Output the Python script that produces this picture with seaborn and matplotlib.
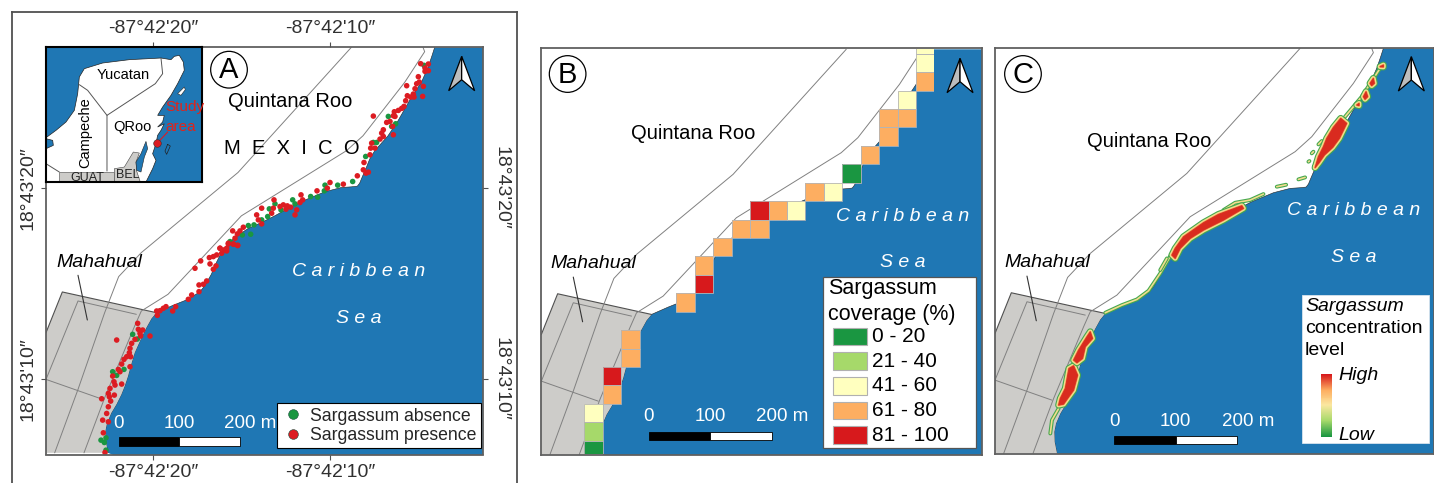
# Sargassum maps of Mahahual: presence points, coverage grid, concentration level
import numpy as np
import pandas as pd
import seaborn as sns
import matplotlib.pyplot as plt
from matplotlib.colors import ListedColormap, LinearSegmentedColormap
from matplotlib.lines import Line2D
from matplotlib.patches import Circle, Polygon, Rectangle

# Coastline, roads and town outline, in map units (1 unit = 1/3 pixel)
coast_x = [1180, 1172, 1160, 1140, 1110, 1070, 1040, 1000, 985, 975, 962, 955, 948, 930, 900, 850, 785, 740, 700, 660, 620, 580, 560, 540, 525, 510, 490, 475, 440, 395, 345, 330, 315, 298, 280, 268, 260, 250, 240, 225, 210, 197, 192, 193, 200]
coast_y = [25, 50, 85, 130, 175, 245, 290, 335, 360, 385, 415, 432, 441, 443, 445, 458, 485, 508, 530, 550, 568, 595, 615, 640, 670, 705, 740, 758, 780, 798, 820, 838, 865, 900, 940, 980, 1010, 1040, 1065, 1095, 1120, 1150, 1175, 1205, 1240]
town_edge_x = [14, 63, 345]
town_edge_y = [880, 758, 820]
road_a_x = [930, 590, 300, 232, 190, 110, 40]
road_a_y = [25, 400, 640, 712, 820, 1050, 1240]
road_b_x = [1145, 1150, 1090, 965, 915, 600, 380, 300, 280, 190, 128]
road_b_y = [25, 38, 130, 290, 335, 530, 765, 815, 860, 1075, 1240]
road_c_x = [285, 110, 14, 185]
road_c_y = [825, 785, 1020, 1080]

# Panel A survey points
presence_x = [1262, 1285, 1275, 1285, 1275, 1255, 1258, 1250, 1220, 1270, 1245, 1240, 1222, 1232, 1242, 1268, 1217, 1212, 1205, 1195, 1183, 1180, 1120, 1185, 1170, 1160, 1178, 1150, 1145, 1180, 1150, 1140, 1115, 1125, 1112, 1110, 1092, 1090, 1098, 1105, 1072, 1030, 990, 982, 951, 903, 908, 900, 822, 850, 840, 862, 872, 858, 820, 815, 890, 885, 785, 770, 775, 785, 730, 698, 720, 712, 705, 685, 700, 713, 660, 680, 672,
              700, 713, 685, 660, 680, 665, 650, 640, 628, 602, 630, 648, 640, 585, 620, 610, 597, 597, 575, 565, 527, 498, 490, 480, 470, 518, 472, 413, 415, 428, 420, 450, 422, 405, 350, 395, 390, 388, 392, 380, 372, 365, 355, 390, 360, 338, 342, 365, 345, 330, 325, 343, 328, 332, 305, 325, 320, 308, 325, 310, 315]
presence_y = [192, 193, 205, 213, 215, 231, 247, 252, 258, 260, 267, 283, 288, 292, 292, 290, 303, 320, 326, 332, 336, 348, 349, 350, 365, 368, 380, 390, 400, 405, 410, 418, 430, 445, 445, 465, 488, 510, 520, 517, 528, 553, 548, 565, 573, 585, 600, 608, 600, 615, 620, 618, 622, 628, 625, 640, 630, 645, 625, 645, 660, 672, 682, 693, 693, 702, 715, 730, 733, 737, 745, 745, 750,
              732, 736, 732, 745, 753, 760, 765, 770, 773, 783, 792, 798, 808, 805, 843, 853, 855, 875, 885, 898, 920, 920, 925, 932, 933, 933, 946, 970, 988, 990, 1000, 1008, 1008, 1018, 1020, 1030, 1045, 1058, 1070, 1070, 1078, 1092, 1108, 1100, 1115, 1128, 1145, 1152, 1155, 1165, 1180, 1185, 1190, 1203, 1196, 1220, 1240, 1260, 1265, 1298, 1357]
absence_x = [1272, 1165, 1187, 1175, 1120, 1130, 1097, 1058, 1013, 975, 973, 932, 953, 878, 885, 843, 825, 808, 803, 785, 762, 745, 727, 752, 690,
             398, 412, 338, 372, 350, 318, 303, 313, 318]
absence_y = [197, 350, 372, 380, 428, 428, 470, 545, 556, 556, 573, 590, 592, 600, 612, 630, 612, 627, 650, 660, 675, 677, 705, 703, 725,
             1003, 1017, 1115, 1108, 1126, 1313, 1320, 1327, 1350]
point_labels = ["Sargassum absence", "Sargassum presence"]

# Panel B coverage grid cells
cover_row = [0, 1, 2, 3, 4, 4, 5, 6, 7, 8, 8, 9, 9, 9, 10, 10, 11, 12, 13, 14, 16, 17, 18, 19, 20, 21, 22]
cover_col = [18, 18, 18, 17, 16, 17, 16, 15, 14, 12, 13, 9, 10, 11, 8, 9, 7, 6, 6, 5, 2, 2, 1, 1, 0, 0, 0]
cover_class = [2, 2, 3, 2, 3, 3, 3, 3, 0, 3, 2, 4, 3, 2, 3, 3, 3, 3, 4, 3, 3, 3, 4, 3, 2, 1, 0]
cover_labels = ["0 - 20", "21 - 40", "41 - 60", "61 - 80", "81 - 100"]
cover_colors = ["#1A9641", "#A6D96A", "#FFFFBF", "#FDAE61", "#D7191C"]

# Panel C sargassum patches (high core outlines) and thin fringe lines
band_cores = [
    ([205, 210, 225, 236, 250, 262, 250, 232, 220], [1095, 1075, 1045, 985, 977, 1005, 1050, 1075, 1092]),
    ([250, 265, 290, 300, 307, 285, 277, 260], [960, 930, 890, 875, 895, 920, 955, 968]),
    ([555, 580, 640, 685, 755, 760, 700, 640, 600, 570, 555, 545], [625, 590, 548, 523, 497, 505, 540, 570, 595, 625, 655, 645]),
    ([975, 985, 1000, 1010, 1030, 1052, 1070, 1048, 1028, 1003, 987], [383, 350, 320, 295, 262, 235, 250, 295, 322, 345, 368]),
    ([1120, 1128, 1133, 1125], [170, 155, 170, 178]),
    ([1140, 1150, 1153, 1145], [130, 115, 130, 137]),
    ([1170, 1180, 1180], [80, 75, 81]),
    ([1100, 1107, 1107], [195, 190, 197]),
]
band_fringes = [
    ([180, 185, 205], [1180, 1140, 1105]),
    ([345, 395, 440, 475, 510, 545], [818, 795, 778, 752, 700, 640]),
    ([510, 530], [690, 655]),
    ([700, 735, 780, 820], [510, 488, 480, 462]),
    ([860, 888], [440, 434]),
    ([925, 945], [418, 412]),
    ([955, 958], [365, 363]),
    ([965, 970], [340, 335]),
    ([985, 995], [313, 303]),
    ([1065, 1115, 1170], [230, 170, 85]),
]

tick_lon = ["-87°42'20″", "-87°42'10″"]
tick_lat = ["18°43'20″", "18°43'10″"]

SEA = "#1F77B4"
TOWN = "#CDCCC9"
ROAD = "#808080"
FRAME = "#606060"
GREEN = "#45A84E"
SAND = "#F3DC8E"
W, H = 1434, 483

sns.set_theme(style="white")
plt.rcParams["font.family"] = ["Liberation Sans", "DejaVu Sans"]
fig = plt.figure(figsize=(W / 100, H / 100), dpi=100)


def px_axes(left, top, right, bottom, **kw):
    return fig.add_axes([left / W, 1 - bottom / H, (right - left) / W, (bottom - top) / H], **kw)


def base_map(ax, xlim, ylim):
    # sea, town, roads and the frame shared by the three panels
    ax.set_xlim(*xlim)
    ax.set_ylim(*ylim)
    ax.fill(coast_x + [2000, 2000], coast_y + [2000, 25], color=SEA, lw=0, zorder=1)
    ax.plot(coast_x, coast_y, color="#222222", lw=0.4, zorder=2)
    start = coast_x.index(town_edge_x[-1])
    ax.fill(town_edge_x[:-1] + coast_x[start:] + [14], town_edge_y[:-1] + coast_y[start:] + [1240],
            color=TOWN, lw=0, zorder=2)
    ax.plot(town_edge_x, town_edge_y, color="#505050", lw=0.8, zorder=3)
    for rx, ry in [(road_a_x, road_a_y), (road_b_x, road_b_y), (road_c_x, road_c_y)]:
        ax.plot(rx, ry, color=ROAD, lw=0.7, zorder=3)
    ax.plot([110, 138], [708, 842], color="#333333", lw=0.8, zorder=3)
    ax.set_xticks([])
    ax.set_yticks([])
    for spine in ax.spines.values():
        spine.set_color(FRAME)
        spine.set_linewidth(1.3)
        spine.set_zorder(20)


def map_text(ax, quintana, caribbean, sea, mahahual=(170, 667)):
    ax.text(*quintana, "Quintana Roo", fontsize=14.5, ha="center", va="center", color="black", zorder=6)
    ax.text(*caribbean, "C a r i b b e a n", fontsize=14, style="italic", ha="center", va="center", color="white", zorder=6)
    ax.text(*sea, "S e a", fontsize=14, style="italic", ha="center", va="center", color="white", zorder=6)
    ax.text(*mahahual, "Mahahual", fontsize=14, style="italic", ha="center", va="center", color="black", zorder=6)


def panel_badge(ax, x, y, letter):
    ax.add_patch(Circle((x, y), 55, fc="white", ec="black", lw=0.9, zorder=7))
    ax.text(x, y + 2, letter, fontsize=21, ha="center", va="center", color="black", zorder=8)


def north_arrow(ax, x, y):
    ax.add_patch(Polygon([(x, y), (x - 39, y + 103), (x, y + 70)], fc="#BDBDBD", ec="black", lw=0.9, zorder=7))
    ax.add_patch(Polygon([(x, y), (x + 39, y + 103), (x, y + 70)], fc="white", ec="black", lw=0.9, zorder=7))


def scale_bar(ax, x0, x1, x2, y, lab_y, lab2_x):
    ax.add_patch(Rectangle((x0, y), x1 - x0, 25, fc="black", ec="black", lw=0.6, zorder=6))
    ax.add_patch(Rectangle((x1, y), x2 - x1, 25, fc="white", ec="black", lw=0.6, zorder=6))
    for lx, lab in [(x0, "0"), (x1, "100"), (lab2_x, "200 m")]:
        ax.text(lx, lab_y, lab, fontsize=13.5, ha="center", va="center", color="white", zorder=6)


# outer box round panel A, open at the bottom of the image
outer = px_axes(11.5, 12, 516.5, 490)
outer.set_xticks([])
outer.set_yticks([])
outer.spines["bottom"].set_visible(False)
for side in ["left", "top", "right"]:
    outer.spines[side].set_color("#505050")
    outer.spines[side].set_linewidth(1.3)

# ---------- Panel A ----------
ax_a = px_axes(46, 47, 483, 454.5)
base_map(ax_a, (14, 1325), (1245, 24))
points = pd.concat([
    pd.DataFrame({"x": absence_x, "y": absence_y, "kind": point_labels[0]}),
    pd.DataFrame({"x": presence_x, "y": presence_y, "kind": point_labels[1]}),
])
points["x"] = points["x"] - 124
points["y"] = points["y"] - 118
sns.scatterplot(data=points, x="x", y="y", hue="kind", ax=ax_a, s=16, linewidth=0,
                palette={point_labels[0]: "#1A9641", point_labels[1]: "#DC1C22"},
                legend=False, zorder=5)
ax_a.set_xlabel("")
ax_a.set_ylabel("")
map_text(ax_a, (748, 187), (951, 697), (951, 837), (173, 669))
ax_a.text(751, 327, "M  E  X  I  C  O", fontsize=14.5, ha="center", va="center", color="black", zorder=6)
panel_badge(ax_a, 563, 92, "A")
north_arrow(ax_a, 1261, 52)
scale_bar(ax_a, 232, 414, 596, 1194, 1152, 628)
handles = [Line2D([], [], ls="", marker="o", ms=7, mfc=c, mec="#1B4D3E", mew=0.4)
           for c in ["#1A9641", "#DC1C22"]]
leg = ax_a.legend(handles, point_labels, loc="lower right", bbox_to_anchor=(0.9955, 0.0155), fontsize=12.7,
                  frameon=True, fancybox=False, framealpha=1, edgecolor="black", borderpad=0.25,
                  labelspacing=0.12, handletextpad=0.35, handlelength=1.3, borderaxespad=0)
leg.set_zorder(10)
leg.get_frame().set_linewidth(0.8)

# coordinate ticks sit on a thin overlay so they can stick out of the frame
ticks = px_axes(46, 47, 483, 454.5)
ticks.patch.set_visible(False)
ticks.set_xlim(46, 483)
ticks.set_ylim(454.5, 47)
ticks.set_xticks([153, 330], tick_lon)
ticks.set_yticks([188, 379], tick_lat)
ticks.tick_params(axis="both", which="major", length=3.6, width=0.8, color="#505050", labelsize=14,
                  labelcolor="#303030", top=True, bottom=True, left=True, right=True,
                  labeltop=True, labelbottom=True, labelleft=True, labelright=True, pad=3.5)
for tick in ticks.yaxis.get_major_ticks():
    tick.label1.set_rotation(90)
    tick.label1.set_va("center")
    tick.label2.set_rotation(270)
    tick.label2.set_va("center")
for spine in ticks.spines.values():
    spine.set_visible(False)

# inset location map, coordinates in its own units
inset = px_axes(46, 47, 202.3, 181.7)
inset.set_xlim(0, 469)
inset.set_ylim(404, 0)
inset.patch.set_facecolor(SEA)
inset.set_xticks([])
inset.set_yticks([])
inset.set_zorder(5)
for spine in inset.spines.values():
    spine.set_color("black")
    spine.set_linewidth(1.5)
land_x = [0, 30, 60, 85, 95, 100, 115, 170, 250, 345, 375, 385, 400, 412, 415, 395, 375, 350, 335, 355, 350, 335, 355, 345, 335, 330, 320, 330, 320, 300, 0, 0, 22, 20, 0]
land_y = [272, 250, 225, 190, 140, 90, 65, 48, 38, 33, 38, 28, 25, 45, 70, 110, 145, 180, 205, 205, 225, 240, 230, 250, 265, 290, 320, 340, 365, 405, 405, 305, 295, 280, 275]
guat_x = [40, 205, 205, 40]
guat_y = [375, 375, 405, 405]
bel_x = [205, 235, 262, 280, 270, 272, 283, 205]
bel_y = [365, 360, 315, 318, 345, 372, 405, 405]
bay_x = [300, 305, 295, 285, 272, 270, 285]
bay_y = [283, 305, 330, 375, 370, 345, 320]
isle_x = [395, 415, 418, 405]
isle_y = [140, 120, 128, 145]
inset.fill(land_x, land_y, fc="white", ec="#222222", lw=0.5)
inset.fill(guat_x, guat_y, fc=TOWN, ec="#444444", lw=0.4)
inset.fill(bel_x, bel_y, fc=TOWN, ec="#444444", lw=0.4)
inset.fill(bay_x, bay_y, fc=SEA, ec="#222222", lw=0.4)
inset.fill(isle_x, isle_y, fc="white", ec="#222222", lw=0.4)
inset.plot([345, 350, 328, 183, 183], [33, 80, 110, 205, 372], color="#555555", lw=0.7)
inset.plot([183, 125, 100], [205, 130, 113], color="#555555", lw=0.7)
inset.plot([0, 40], [350, 375], color="#555555", lw=0.7)
inset.plot([365, 373, 362, 357, 365], [292, 297, 322, 312, 292], color="#222222", lw=0.5)
inset.plot([333, 365], [289, 255], color="#DC1C22", lw=0.8)
inset.scatter([333], [289], s=30, c="#DC1C22", edgecolors="#333333", linewidths=0.4, zorder=4)
inset.text(232, 85, "Yucatan", fontsize=10.5, ha="center", va="center", color="black")
inset.text(118, 257, "Campeche", fontsize=10.5, rotation=90, ha="center", va="center", color="black")
inset.text(260, 240, "QRoo", fontsize=10.5, ha="center", va="center", color="black")
inset.text(125, 392, "GUAT", fontsize=9, ha="center", va="center", color="#222222")
inset.text(245, 385, "BEL", fontsize=9, ha="center", va="center", color="#222222")
inset.text(357, 180, "Study", fontsize=11, ha="left", va="center", color="#E2231A", clip_on=False)
inset.text(357, 240, "area", fontsize=11, ha="left", va="center", color="#E2231A", clip_on=False)

# ---------- Panel B ----------
ax_b = px_axes(541, 48, 982, 454.5)
base_map(ax_b, (13, 1338), (1240, 21))
map_text(ax_b, (471, 277), (1101, 525), (1101, 665))
panel_badge(ax_b, 93, 99, "B")
north_arrow(ax_b, 1272, 52)
scale_bar(ax_b, 336, 521, 706, 1172, 1127, 739)
ax_b.add_patch(Rectangle((859, 707), 460, 515, fc="white", ec="#555555", lw=0.9, zorder=6))
ax_b.text(874, 742, "Sargassum", fontsize=15.5, ha="left", va="center", color="black", zorder=7)
ax_b.text(874, 820, "coverage (%)", fontsize=15.5, ha="left", va="center", color="black", zorder=7)
for i, lab in enumerate(cover_labels):
    y = 860 + i * 73.7
    ax_b.add_patch(Rectangle((891, y), 101, 53, fc=cover_colors[i], ec="#B0B0B0", lw=0.8, zorder=7))
    ax_b.text(1008, y + 27, lab, fontsize=15, ha="left", va="center", color="black", zorder=7)

# coverage cells go through a heatmap laid over the panel, one axis cell = one grid square
cells = pd.DataFrame({"row": cover_row, "col": cover_col, "cover": cover_class})
grid = cells.pivot(index="row", columns="col", values="cover").reindex(index=range(23), columns=range(19))
cell_px = 18.43
grid_left, grid_top = 584.3, 35.3
frame_top, frame_bot = 48.6, 454.0
ax_grid = px_axes(grid_left, frame_top, grid_left + 19 * cell_px, frame_bot)
ax_grid.patch.set_visible(False)
sns.heatmap(grid, ax=ax_grid, cmap=ListedColormap(cover_colors), vmin=-0.5, vmax=4.5, cbar=False,
            linewidths=0, xticklabels=False, yticklabels=False)
for r, c in zip(cover_row, cover_col):
    ax_grid.add_patch(Rectangle((c, r), 1, 1, fill=False, ec="#B5B5B5", lw=0.6))
ax_grid.set_ylim((frame_bot - grid_top) / cell_px, (frame_top - grid_top) / cell_px)
ax_grid.set_xlabel("")
ax_grid.set_ylabel("")

# ---------- Panel C ----------
ax_c = px_axes(995, 48, 1434, 453.5)
base_map(ax_c, (14, 1332), (1240, 24))
map_text(ax_c, (477, 305), (1090, 512), (1090, 652))
panel_badge(ax_c, 98, 102, "C")
north_arrow(ax_c, 1264, 50)
scale_bar(ax_c, 372, 556, 740, 1188, 1145, 774)
for fx, fy in band_fringes:
    ax_c.plot(fx, fy, color=GREEN, lw=2.8, solid_capstyle="round", zorder=4)
    ax_c.plot(fx, fy, color=SAND, lw=1.2, solid_capstyle="round", zorder=4)
for cx, cy in band_cores:
    ax_c.fill(cx, cy, fc=GREEN, ec=GREEN, lw=5.0, joinstyle="round", zorder=4)
    ax_c.fill(cx, cy, fc=SAND, ec=SAND, lw=3.4, joinstyle="round", zorder=4)
    ax_c.fill(cx, cy, fc="#F08A4B", ec="#F08A4B", lw=1.4, joinstyle="round", zorder=4)
    ax_c.fill(cx, cy, fc="#D92B1F", ec="#D92B1F", lw=0.6, joinstyle="round", zorder=4)
ax_c.add_patch(Rectangle((935, 765), 382, 445, fc="white", ec="#D8E4EE", lw=0.6, zorder=6))
ax_c.text(945, 800, "Sargassum", fontsize=14, style="italic", ha="left", va="center", color="black", zorder=7)
ax_c.text(945, 865, "concentration", fontsize=14, ha="left", va="center", color="black", zorder=7)
ax_c.text(945, 932, "level", fontsize=14, ha="left", va="center", color="black", zorder=7)
ax_c.text(1045, 1005, "High", fontsize=14, style="italic", ha="left", va="center", color="black", zorder=7)
ax_c.text(1045, 1185, "Low", fontsize=14, style="italic", ha="left", va="center", color="black", zorder=7)

level_cmap = LinearSegmentedColormap.from_list("level", ["#1A9641", "#A6D96A", "#FBE7A0", "#FDAE61", "#D7191C"])
ax_bar = px_axes(990 + 994 / 3, 40 + 1002 / 3, 990 + 1025 / 3, 40 + 1190 / 3)
ax_bar.set_zorder(6)
sns.heatmap(np.linspace(1, 0, 64).reshape(-1, 1), ax=ax_bar, cmap=level_cmap, cbar=False,
            xticklabels=False, yticklabels=False)

fig.savefig("out.png", dpi=100)
